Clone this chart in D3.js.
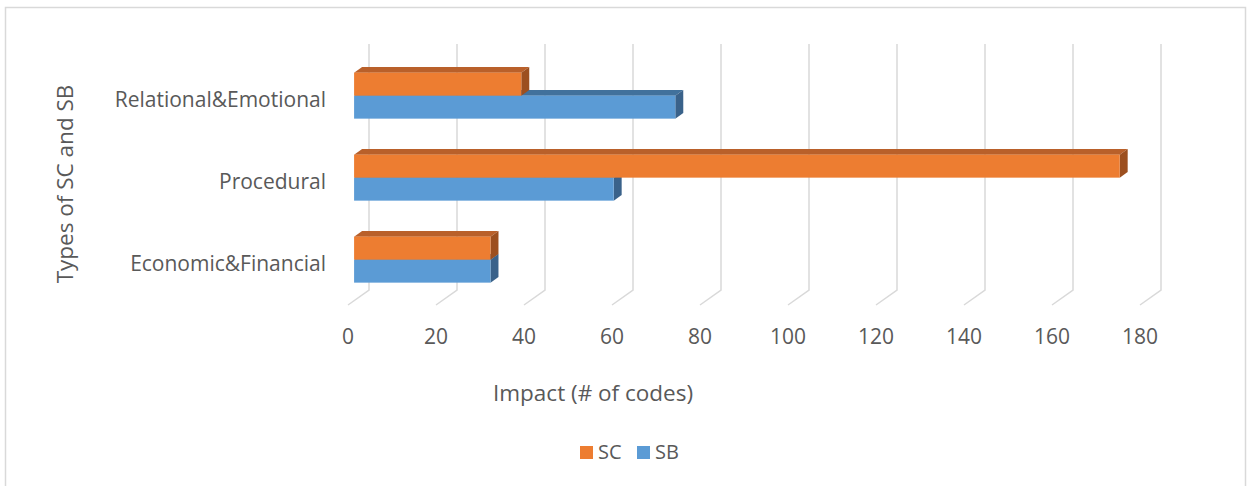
<!DOCTYPE html>
<html>
<head>
<meta charset="utf-8">
<script src="https://cdn.jsdelivr.net/npm/d3@7"></script>
<style>
  body { margin: 0; background: #fff; }
  text { font-family: "Open Sans", sans-serif; fill: #595959; }
</style>
</head>
<body>
<div id="chart"></div>
<script>
// data
var categories = ["Economic&Financial", "Procedural", "Relational&Emotional"];
var scValues = [31, 174, 38];
var sbValues = [31, 59, 73];
var xTicks = [0, 20, 40, 60, 80, 100, 120, 140, 160, 180];
var seriesNames = ["SC", "SB"];

var svgWidth = 1250;
var svgHeight = 486;

// fake 3d: depth pushes things right and up
var DX = 21, DY = 15;
var barFront = 0.29, barBack = 0.67;

var colors = {
  SC: { front: "#ED7D31", top: "#B9602A", side: "#9C4F1F" },
  SB: { front: "#5B9BD5", top: "#41719C", side: "#3A628A" }
};

var svg = d3.select("#chart")
  .append("svg")
  .attr("width", svgWidth)
  .attr("height", svgHeight);

// chart border
svg.append("rect")
  .attr("x", 5.5).attr("y", 7.5)
  .attr("width", 1240).attr("height", 500)
  .attr("fill", "none")
  .attr("stroke", "#d9d9d9")
  .attr("stroke-width", 1.5);

var xScale = d3.scaleLinear().domain([0, 180]).range([348, 1140]);
var yScale = d3.scaleBand()
  .domain(categories.slice().reverse())
  .range([59, 305])
  .padding(0);
var subScale = d3.scaleBand()
  .domain(seriesNames)
  .range([0, yScale.bandwidth()])
  .paddingInner(0)
  .paddingOuter(0.783);

function proj(xs, ys, d) {
  return [xs + d * DX, ys - d * DY];
}
function pts(arr) {
  return arr.map(function(p) { return p.join(","); }).join(" ");
}

// gridlines: back wall + floor
var floorY = 305, topY = 59;
var grid = svg.append("g");
xTicks.forEach(function(t) {
  var x = xScale(t);
  var a = proj(x, floorY, 0), b = proj(x, floorY, 1), c = proj(x, topY, 1);
  grid.append("polyline")
    .attr("points", pts([a, b, c]))
    .attr("fill", "none")
    .attr("stroke", "#d9d9d9")
    .attr("stroke-width", 1.5);
});

// bars
var bars = svg.append("g");
categories.forEach(function(cat, i) {
  var vals = { SC: scValues[i], SB: sbValues[i] };
  // lower bar first so the upper one covers its top face
  ["SB", "SC"].forEach(function(s) {
    var x0 = xScale(0), x1 = xScale(vals[s]);
    var y0 = yScale(cat) + subScale(s);
    var y1 = y0 + subScale.bandwidth();
    var col = colors[s];
    // top face
    bars.append("polygon")
      .attr("points", pts([proj(x0, y0, barFront), proj(x1, y0, barFront), proj(x1, y0, barBack), proj(x0, y0, barBack)]))
      .attr("fill", col.top);
    // end face
    bars.append("polygon")
      .attr("points", pts([proj(x1, y0, barFront), proj(x1, y0, barBack), proj(x1, y1, barBack), proj(x1, y1, barFront)]))
      .attr("fill", col.side);
    // front face
    var f0 = proj(x0, y0, barFront), f1 = proj(x1, y1, barFront);
    bars.append("rect")
      .attr("x", f0[0]).attr("y", f0[1])
      .attr("width", f1[0] - f0[0]).attr("height", f1[1] - f0[1])
      .attr("fill", col.front);
  });
});

// category labels
svg.append("g").selectAll("text")
  .data(categories)
  .enter().append("text")
  .attr("x", 326)
  .attr("y", function(d) { return yScale(d) + yScale.bandwidth() / 2; })
  .attr("dy", "0.35em")
  .attr("text-anchor", "end")
  .attr("font-size", 21)
  .text(function(d) { return d; });

// value tick labels
svg.append("g").selectAll("text")
  .data(xTicks)
  .enter().append("text")
  .attr("x", function(d) { return xScale(d); })
  .attr("y", 337)
  .attr("dy", "0.35em")
  .attr("text-anchor", "middle")
  .attr("font-size", 21)
  .text(function(d) { return d; });

// axis titles
svg.append("text")
  .attr("x", 593).attr("y", 393)
  .attr("dy", "0.35em")
  .attr("text-anchor", "middle")
  .attr("font-size", 22.5)
  .text("Impact (# of codes)");

svg.append("text")
  .attr("transform", "translate(65,184) rotate(-90)")
  .attr("dy", "0.35em")
  .attr("text-anchor", "middle")
  .attr("font-size", 22.5)
  .text("Types of SC and SB");

// legend
var legend = svg.append("g");
var legendX = [580, 637];
seriesNames.forEach(function(s, i) {
  legend.append("rect")
    .attr("x", legendX[i]).attr("y", 446)
    .attr("width", 13).attr("height", 13)
    .attr("fill", colors[s].front);
  legend.append("text")
    .attr("x", legendX[i] + 18).attr("y", 452)
    .attr("dy", "0.35em")
    .attr("font-size", 20)
    .text(s);
});
</script>
</body>
</html>
